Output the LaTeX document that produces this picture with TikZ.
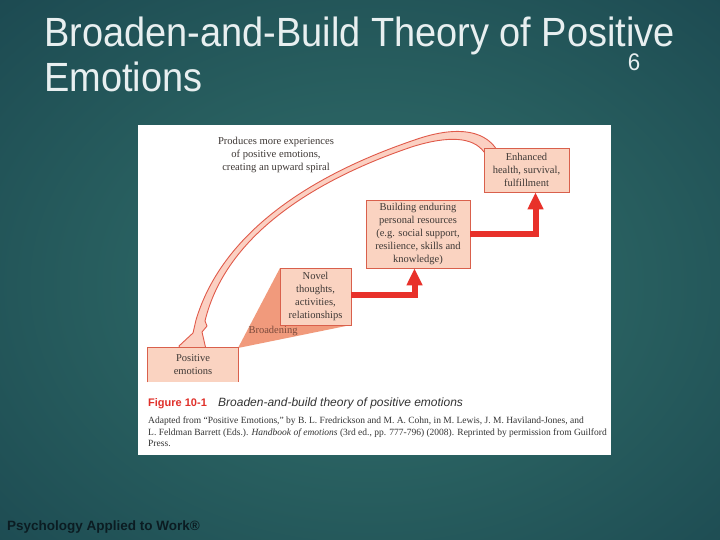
\documentclass[tikz,border=0pt]{standalone}
\usepackage{fontspec}
\setmainfont{Liberation Serif}
\setsansfont{Liberation Sans}
\newfontfamily\titlefont[FakeStretch=0.93]{Liberation Sans}
\usetikzlibrary{arrows.meta}
\definecolor{bgA}{HTML}{32716E}
\definecolor{bgB}{HTML}{275D5E}
\definecolor{bgC}{HTML}{123745}
\definecolor{titlec}{HTML}{E8EFF0}
\definecolor{boxf}{HTML}{FAD3C1}
\definecolor{boxb}{HTML}{D9604C}
\definecolor{boxt}{HTML}{3E3835}
\definecolor{redarr}{HTML}{E8312A}
\definecolor{bandout}{HTML}{E05A4A}
\definecolor{bandin}{HTML}{FBD0C2}
\definecolor{fanc}{HTML}{F19A7C}
\definecolor{brdc}{HTML}{7A4A3C}
\definecolor{figred}{HTML}{E0302A}
\definecolor{footc}{HTML}{0B1C22}
\pgfdeclareradialshading{bgshade}{\pgfpoint{0bp}{0bp}}{color(0bp)=(bgA); color(18bp)=(bgB); color(50bp)=(bgC); color(60bp)=(bgC)}
\tikzset{
  fbox/.style={draw=boxb, fill=boxf, line width=0.8pt, align=center, inner sep=0pt,
    font=\fontsize{10.5}{13}\selectfont, text=boxt},
  redarrow/.style={draw=redarr, line width=6pt, line join=miter,
    -{Triangle[width=15pt,length=17pt]}},
  txt/.style={inner sep=0pt, align=center, text=boxt},
  captxt/.style={anchor=base west, inner sep=0pt, text=black!80, font=\fontsize{9.5}{11}\selectfont},
  titletxt/.style={anchor=base west, inner sep=0pt, text depth=0pt, text=titlec, font=\titlefont\fontsize{40.8}{40.8}\selectfont},
}
\begin{document}
\begin{tikzpicture}[x=1pt,y=-1pt]
\useasboundingbox (0,0) rectangle (720,540);
\shade[shading=bgshade] (-20,-10) rectangle (760,580);
% title
\node[titletxt] (t1) at (44,47) {Broaden-and-Build Theory of Positive};
\node[titletxt] (t2) at (44,92) {Emotions};
\node[anchor=base, inner sep=0pt, text=titlec, font=\titlefont\fontsize{24}{24}\selectfont] (num) at (634,71) {6};
% panel
\fill[white] (138,125) rectangle (611,455);
% curved tapered arrow (upward spiral)
\filldraw[fill=bandin, draw=bandout, line width=0.9pt, line join=round]
  (497,150) .. controls (483,128) and (452,126.5) .. (413,140.5)
  .. controls (319,172.6) and (223.5,228) .. (196,320)
  -- (193,333) -- (179,346) -- (184,358) -- (208,358) -- (202,332) -- (207,326) -- (205,321)
  .. controls (226.5,232) and (321,177.4) .. (413,146.5)
  .. controls (449,135.5) and (473,137) .. (484,152) -- cycle;
% broadening fan and boxes
\coordinate (fanA) at (238,348);
\coordinate (novNW) at (280,268);
\coordinate (novSE) at (351,325);
\fill[fanc] (fanA) -- (novNW) -- (novSE) -- cycle;
\node[fbox, minimum width=71pt, minimum height=57pt] (nov) at (315.5,296.5) {Novel\\thoughts,\\activities,\\relationships};
\node[fbox, minimum width=85pt, minimum height=44pt] (enh) at (526.5,170) {Enhanced\\health, survival,\\fulfillment};
\node[fbox, minimum width=104pt, minimum height=68pt] (bld) at (418,234) {Building enduring\\personal resources\\(e.g. social support,\\resilience, skills and\\knowledge)};
\node[fbox, draw=none, minimum width=90pt, minimum height=34pt] (pos) at (193,365) {Positive\\emotions};
\draw[boxb, line width=0.8pt] (pos.south west) |- (pos.north east) -- (pos.south east);
% red arrows
\draw[redarrow] ([yshift=2pt]nov.east) -| ([xshift=-3.5pt]bld.south);
\draw[redarrow] (bld.east) -| ([xshift=9pt]enh.south);
% labels
\node[txt, font=\fontsize{10.6}{13}\selectfont] (prod) at (276,155) {Produces more experiences\\of positive emotions,\\creating an upward spiral};
\node[txt, text=brdc, font=\fontsize{10.5}{12}\selectfont] (brd) at (273,331) {Broadening};
% caption
\node[anchor=base west, inner sep=0pt, text=figred, font=\sffamily\bfseries\fontsize{11}{11}\selectfont] (fig) at (148,406) {Figure 10-1};
\node[anchor=base west, inner sep=0pt, text=black!80, font=\sffamily\itshape\fontsize{12}{12}\selectfont] (figt) at (218,406) {Broaden-and-build theory of positive emotions};
\node[captxt] (c1) at (148,423) {Adapted from “Positive Emotions,” by B. L. Fredrickson and M. A. Cohn, in M. Lewis, J. M. Haviland-Jones, and};
\node[captxt] (c2) at (148,435) {L. Feldman Barrett (Eds.). \textit{Handbook of emotions} (3rd ed., pp. 777-796) (2008). Reprinted by permission from Guilford};
\node[captxt] (c3) at (148,446) {Press.};
% footer
\node[anchor=base west, inner sep=0pt, text=footc, font=\sffamily\bfseries\fontsize{13.5}{13.5}\selectfont] (foot) at (7,530) {Psychology Applied to Work®};
\end{tikzpicture}
\end{document}
